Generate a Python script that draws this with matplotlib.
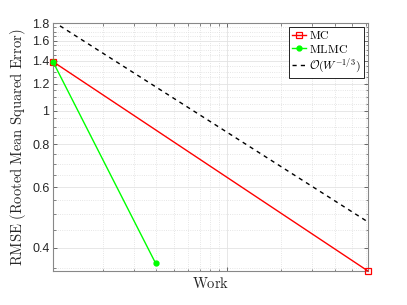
import numpy as np
import matplotlib
matplotlib.use('Agg')
import matplotlib.pyplot as plt
from matplotlib.ticker import FixedLocator, NullFormatter, LogLocator

plt.rcParams['mathtext.fontset'] = 'cm'
plt.rcParams['font.family'] = ['Liberation Sans', 'DejaVu Sans']

# values
W_mc = [1.05e4, 6.15e5]
rmse_mc = [1.39, 0.342]
W_mlmc = [1.05e4, 3.96e4]
rmse_mlmc = [1.39, 0.36]
W_ref = [1.05e4, 6.15e5]
rmse_ref = [1.82, 0.475]
yticks = [0.4, 0.6, 0.8, 1.0, 1.2, 1.4, 1.6, 1.8]
yticklabels = ['0.4', '0.6', '0.8', '1', '1.2', '1.4', '1.6', '1.8']
yminor = [0.35, 0.45, 0.5, 0.55, 0.65, 0.7, 0.75, 0.85, 0.9, 0.95, 1.05, 1.1, 1.15,
          1.25, 1.3, 1.35, 1.45, 1.5, 1.55, 1.65, 1.7, 1.75]

fig = plt.figure(figsize=(4.07, 3.05), dpi=100)
ax = fig.add_axes([0.130, 0.1115, 0.774, 0.813])

ax.plot(W_mc, rmse_mc, color=(1, 0, 0), lw=1.0, marker='s', ms=4, mfc='none',
        mew=0.9, label=r'$\mathrm{MC}$', clip_on=False, zorder=3)
ax.plot(W_mlmc, rmse_mlmc, color=(0, 1, 0), lw=1.0, marker='o', ms=3.5,
        label=r'$\mathrm{MLMC}$', clip_on=False, zorder=4)
ax.plot(W_ref, rmse_ref, 'k--', lw=1.0, dashes=(3, 3),
        label=r'$\mathcal{O}(W^{-1/3})$', zorder=2)

ax.set_xscale('log')
ax.set_yscale('log')
ax.set_xlim(W_mc[0], W_mc[1])
ax.set_ylim(0.342, 1.8)

ax.yaxis.set_major_locator(FixedLocator(yticks))
ax.set_yticklabels(yticklabels)
ax.yaxis.set_minor_locator(FixedLocator(yminor))
ax.yaxis.set_minor_formatter(NullFormatter())
ax.xaxis.set_major_locator(LogLocator(base=10))
ax.xaxis.set_minor_locator(LogLocator(base=10, subs=np.arange(2, 10)))
ax.xaxis.set_major_formatter(NullFormatter())
ax.xaxis.set_minor_formatter(NullFormatter())

ax.grid(True, which='major', color='#e3e3e3', lw=0.6, ls='-')
ax.grid(True, which='minor', color='#dedede', lw=0.6, ls=':')
ax.set_axisbelow(True)

ax.tick_params(which='both', direction='in', top=True, right=True,
               colors='#555555', labelcolor='#262626', labelsize=9, pad=2.5)
ax.tick_params(which='major', length=3, width=0.6)
ax.tick_params(which='minor', length=1.8, width=0.5)
for s in ax.spines.values():
    s.set_color('#888888')
    s.set_linewidth(0.8)

ax.set_xlabel(r'$\mathrm{Work}$', fontsize=10.5, color='#262626', labelpad=1)
ax.set_ylabel(r'$\mathrm{RMSE\ (Rooted\ Mean\ Squared\ Error)}$', fontsize=10.5,
              color='#262626', labelpad=3)

leg = ax.legend(loc='upper right', fontsize=8.5, handlelength=1.2, fancybox=False,
                framealpha=1, edgecolor='black', borderpad=0.25, labelspacing=0.12,
                handletextpad=0.3, borderaxespad=0.35)
leg.get_frame().set_linewidth(0.6)

fig.savefig('out.png', dpi=100)
